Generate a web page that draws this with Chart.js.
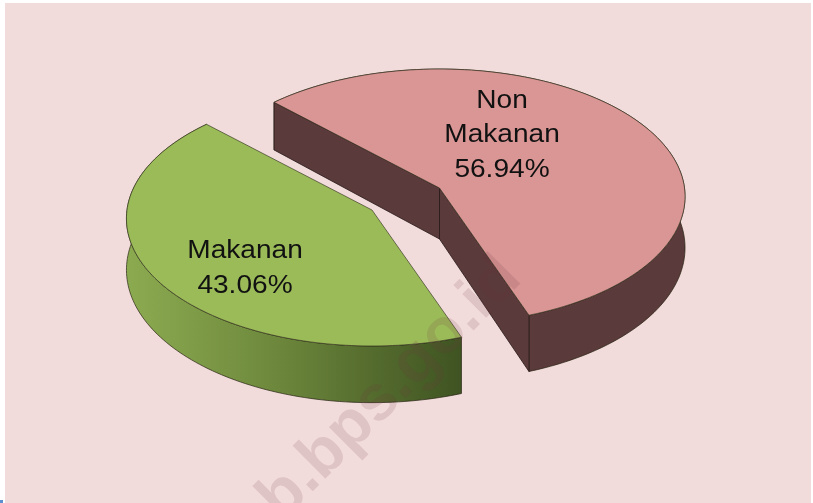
<!DOCTYPE html>
<html>
<head>
<meta charset="utf-8">
<script src="https://cdn.jsdelivr.net/npm/chart.js@4/dist/chart.umd.min.js"></script>
<style>
  html, body { margin: 0; padding: 0; background: #fff; overflow: hidden; }
  #panel { position: absolute; left: 5px; top: 3px; width: 806px; height: 500px; background: #f2dcdb; }
  #corner { position: absolute; left: 0; top: 500px; width: 3px; height: 3px; background: #5b8fd0; }
  canvas { position: absolute; left: 0; top: 0; }
</style>
</head>
<body>
<div id="panel"></div>
<div id="corner"></div>
<canvas id="chart" width="813" height="503"></canvas>
<script>
const categories = ['Non Makanan', 'Makanan'];
const shares = [56.94, 43.06];
const faceColors = ['#d99694', '#9bbb59'];

// where each slice's tip lands on the page, the pie is exploded by hand
const tips = [{ x: 439.5, y: 188 }, { x: 372, y: 210 }];
const labelSpots = [{ x: 502, y: 100.5 }, { x: 245, y: 251 }];

const TILT = 0.518;      // vertical squash of the disc
const PERSPECTIVE = 0.0667; // front of the disc is nearer than the back
const DEPTH = 51;

// disc point to screen, drop pushes it down to the bottom rim
const project = (tip, angle, r, R, drop) => {
  const u = r * Math.cos(angle) / R;
  const v = r * Math.sin(angle) / R;
  const w = 1 - PERSPECTIVE * v;
  return {
    x: tip.x + R * u / w,
    y: tip.y + R * TILT * v / w + (drop ? DEPTH / (1 - 0.1 * v) : 0)
  };
};

const traceRim = (ctx, tip, arc, drop, reverse) => {
  const steps = 120;
  for (let i = 0; i <= steps; i++) {
    const t = reverse ? 1 - i / steps : i / steps;
    const a = arc.startAngle + (arc.endAngle - arc.startAngle) * t;
    const p = project(tip, a, arc.outerRadius, arc.outerRadius, drop);
    ctx.lineTo(p.x, p.y);
  }
};

const strokeFill = (ctx, fill, stroke) => {
  ctx.closePath();
  ctx.fillStyle = fill;
  ctx.fill();
  ctx.strokeStyle = stroke;
  ctx.lineWidth = 1;
  ctx.stroke();
};

const cutFace = (ctx, tip, arc, angle, fill) => {
  const R = arc.outerRadius;
  const a = project(tip, angle, 0, R, false);
  const b = project(tip, angle, R, R, false);
  const c = project(tip, angle, R, R, true);
  const d = project(tip, angle, 0, R, true);
  ctx.beginPath();
  ctx.moveTo(a.x, a.y);
  ctx.lineTo(b.x, b.y);
  ctx.lineTo(c.x, c.y);
  ctx.lineTo(d.x, d.y);
  strokeFill(ctx, fill, 'rgba(40,25,25,0.8)');
};

const wallFill = (ctx, i) => {
  if (i === 0) return '#5a3a3a';
  const g = ctx.createLinearGradient(125, 0, 460, 0);
  g.addColorStop(0, '#8cab50');
  g.addColorStop(0.2, '#7f9c48');
  g.addColorStop(0.45, '#6d883c');
  g.addColorStop(0.7, '#586f30');
  g.addColorStop(1, '#3f5422');
  return g;
};

const pie3d = {
  id: 'pie3d',
  beforeDatasetDraw(chart, args) {
    const ctx = chart.ctx;
    const arcs = args.meta.data;
    arcs.forEach((arc, i) => {
      const tip = tips[i];
      ctx.save();
      ctx.lineJoin = 'round';
      const wall = wallFill(ctx, i);
      ctx.beginPath();
      traceRim(ctx, tip, arc, false, false);
      traceRim(ctx, tip, arc, true, true);
      strokeFill(ctx, wall, 'rgba(40,35,20,0.7)');
      // cut faces only show when they turn towards the viewer
      if (Math.cos(arc.startAngle) < 0) cutFace(ctx, tip, arc, arc.startAngle, wall);
      if (Math.cos(arc.endAngle) > 0) cutFace(ctx, tip, arc, arc.endAngle, wall);
      // top of the slice
      ctx.beginPath();
      ctx.moveTo(tip.x, tip.y);
      traceRim(ctx, tip, arc, false, false);
      strokeFill(ctx, arc.options.backgroundColor, 'rgba(50,50,30,0.65)');
      ctx.restore();
    });
    return false;
  },
  afterDatasetsDraw(chart) {
    const ctx = chart.ctx;
    // watermark
    ctx.save();
    ctx.translate(282, 522);
    ctx.rotate(-Math.PI / 4);
    ctx.font = 'bold 64px "Liberation Sans"';
    ctx.fillStyle = 'rgba(110,50,65,0.14)';
    ctx.textAlign = 'left';
    ctx.textBaseline = 'alphabetic';
    ctx.fillText('b.bps.go.id', 0, 0);
    ctx.restore();
    // labels
    categories.forEach((name, i) => {
      const lines = name.split(' ').concat(shares[i].toFixed(2) + '%');
      lines.forEach((line, n) => {
        ctx.save();
        ctx.translate(labelSpots[i].x, labelSpots[i].y + n * 34.7);
        ctx.scale(1.08, 1);
        ctx.font = '26px "Liberation Sans"';
        ctx.fillStyle = '#111';
        ctx.textAlign = 'center';
        ctx.textBaseline = 'middle';
        ctx.fillText(line, 0, 0);
        ctx.restore();
      });
    });
  }
};

new Chart(document.getElementById('chart'), {
  type: 'pie',
  data: {
    labels: categories,
    datasets: [{ data: shares, backgroundColor: faceColors, borderWidth: 0 }]
  },
  options: {
    responsive: false,
    animation: false,
    events: [],
    rotation: -45,
    radius: 245,
    plugins: { legend: { display: false }, tooltip: { enabled: false } }
  },
  plugins: [pie3d]
});
</script>
</body>
</html>
